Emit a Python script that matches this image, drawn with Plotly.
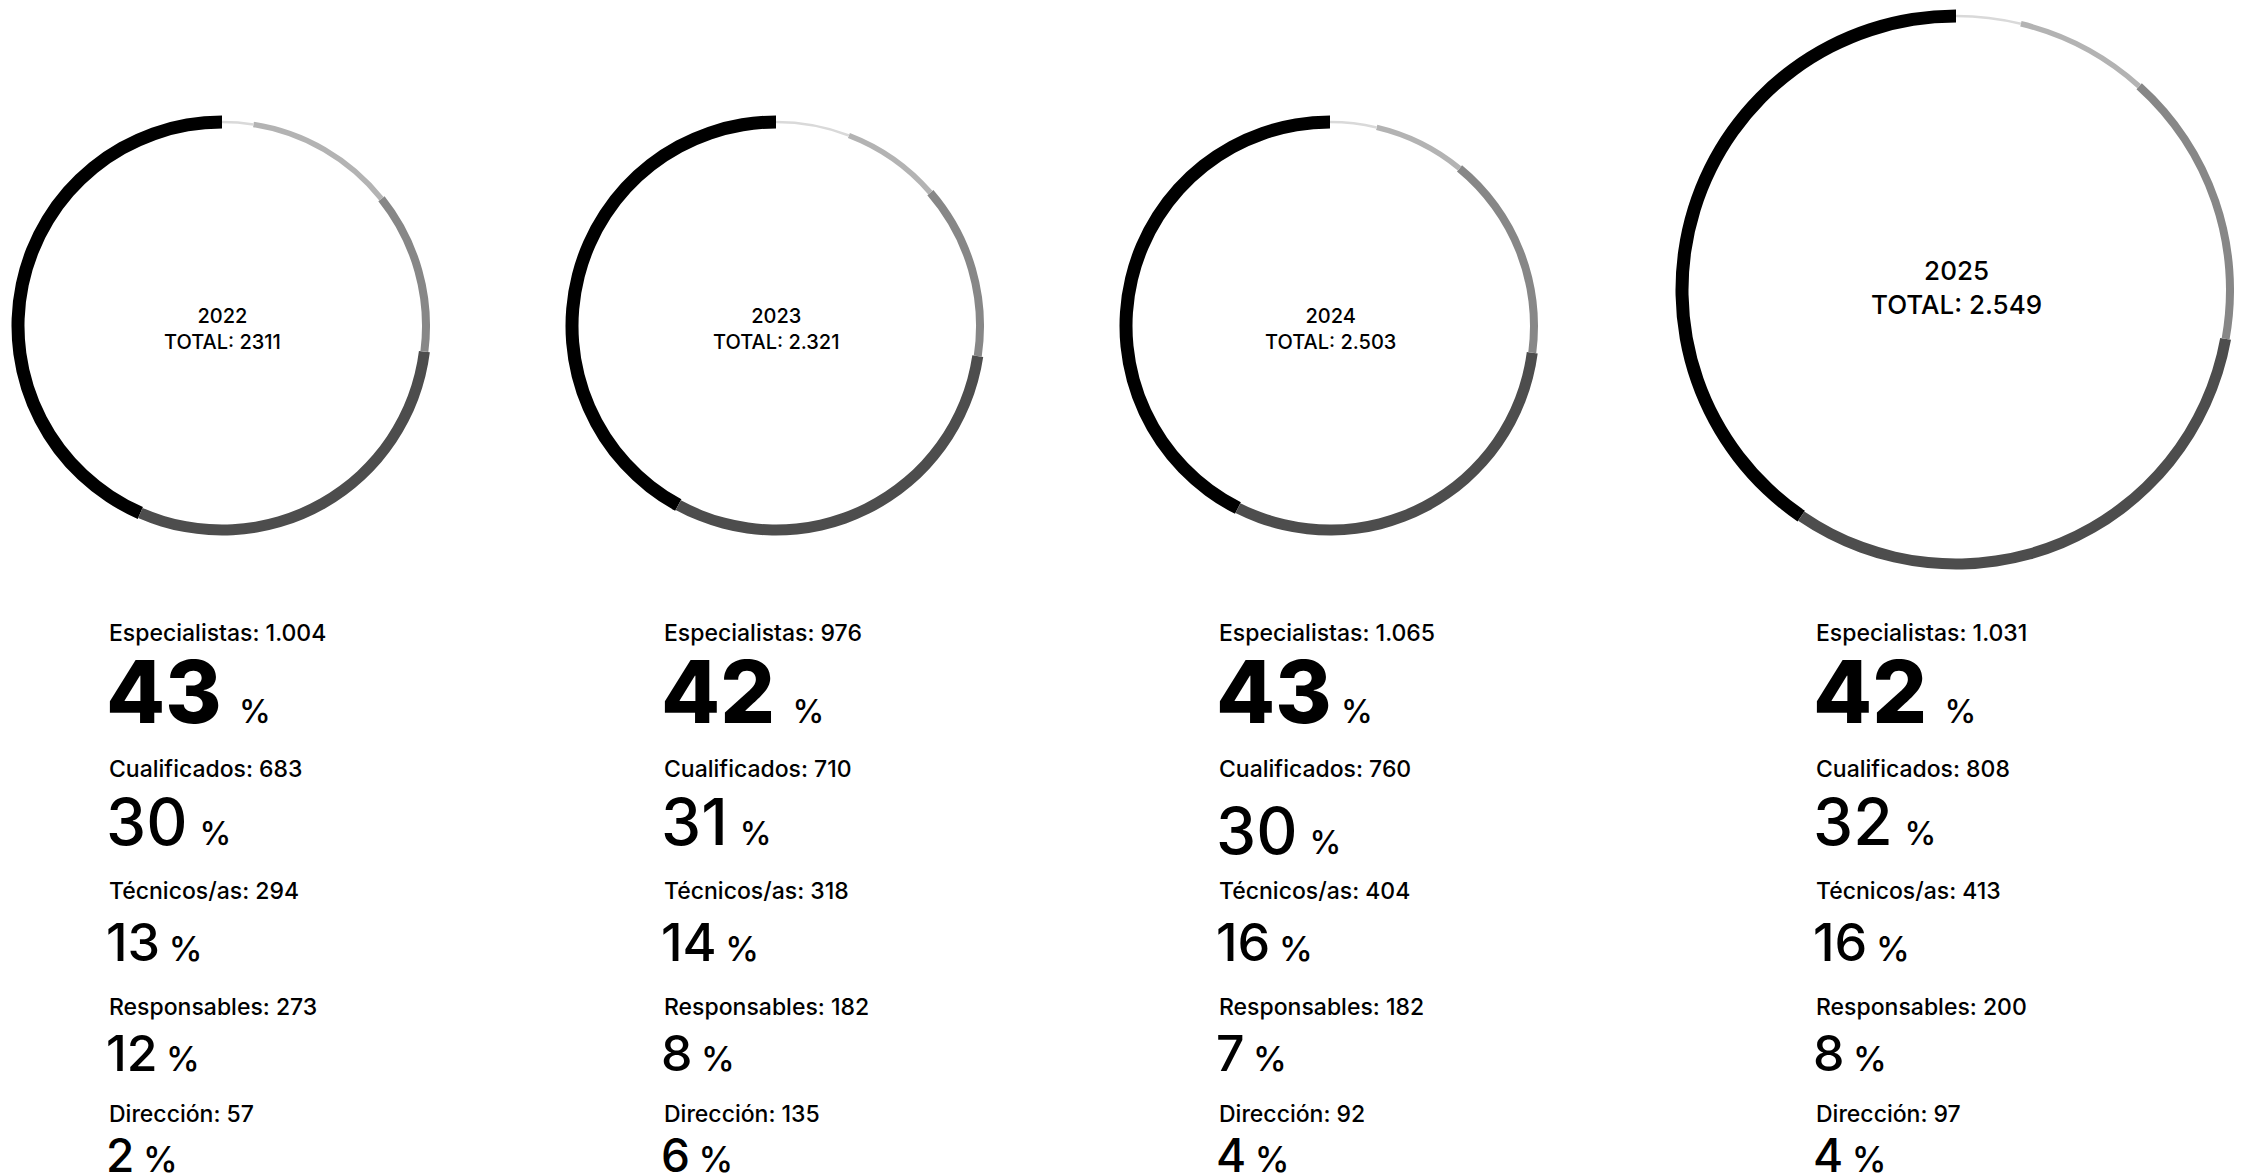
import plotly.graph_objects as go

# ---------------- data ----------------
years = ["2022", "2023", "2024", "2025"]
total_text = ["2311", "2.321", "2.503", "2.549"]
categories = ["Especialistas", "Cualificados", "Técnicos/as", "Responsables", "Dirección"]
especialistas = [1004, 976, 1065, 1031]
cualificados = [683, 710, 760, 808]
tecnicos = [294, 318, 404, 413]
responsables = [273, 182, 182, 200]
direccion = [57, 135, 92, 97]
pct_especialistas = [43, 42, 43, 42]
pct_cualificados = [30, 31, 30, 32]
pct_tecnicos = [13, 14, 16, 16]
pct_responsables = [12, 8, 7, 8]
pct_direccion = [2, 6, 4, 4]

counts = [especialistas, cualificados, tecnicos, responsables, direccion]
pcts = [pct_especialistas, pct_cualificados, pct_tecnicos, pct_responsables, pct_direccion]

# ---------------- style / layout ----------------
PAGE_W, PAGE_H = 2242, 1174
OFF = 8  # default body margin of the html page
W, H = PAGE_W - OFF, PAGE_H - OFF
FONT = "Inter"
colors = ["#000000", "#4d4d4d", "#878787", "#b3b3b3", "#d9d9d9"]
thick = [13, 11, 8, 5.5, 2.5]
rings = [(222, 326, 204), (776, 326, 204), (1330, 326, 204), (1956, 290, 274)]
center_text_dy = [3, 3, 3, -3]
center_font = [20, 20, 20, 26]
col_x = [107, 662, 1217, 1814]
label_y = [633, 769, 891, 1007, 1114]
num_y = [692, 821, 942, 1053, 1155]
num_size = [86, 64, 52, 50, 46]
pct_size = [32, 32, 34, 34, 35]
gap_px = [20, 14, 10, 10, 10]
label_size = 23


def px(x):
    return min(max((x - OFF) / W, 0.0), 1.0)


def py(y):
    return min(max(1 - (y - OFF) / H, 0.0), 1.0)


def fmt(v):
    return f"{v:,}".replace(",", ".")


fig = go.Figure()

# ring order, clockwise from 12 o'clock: Dirección ... Especialistas
order = list(range(len(categories)))[::-1]

for j, yr in enumerate(years):
    cx, cy, R = rings[j]
    for k in range(len(categories)):
        ro = R + thick[k] / 2
        ri = R - thick[k] / 2
        cols = [colors[m] if m == k else "rgba(0,0,0,0)" for m in order]
        fig.add_trace(go.Pie(
            labels=[categories[m] for m in order],
            values=[counts[m][j] for m in order],
            sort=False, direction="clockwise", rotation=0,
            hole=ri / ro,
            marker=dict(colors=cols, line=dict(width=0)),
            textinfo="none", hoverinfo="skip", showlegend=False,
            domain=dict(x=[px(cx - ro), px(cx + ro)],
                        y=[py(cy + ro), py(cy - ro)]),
        ))
    fig.add_annotation(
        x=px(cx), y=py(cy + center_text_dy[j]), xref="paper", yref="paper",
        text=f"{yr}<br>TOTAL: {total_text[j]}", showarrow=False,
        xanchor="center", yanchor="middle", align="center",
        font=dict(family=FONT, size=center_font[j], color="#000", weight=500),
    )

for j in range(len(years)):
    for i, cat in enumerate(categories):
        ly = label_y[i]
        ny = num_y[i]
        gap = gap_px[i]
        if j == 2 and i == 1:
            ny += 9
        if j == 2 and i == 0:
            gap = 11
        fig.add_annotation(
            x=px(col_x[j]), y=py(ly), xref="paper", yref="paper",
            text=f"{cat}: {fmt(counts[i][j])}", showarrow=False,
            xanchor="left", yanchor="middle", align="left",
            font=dict(family=FONT, size=label_size, color="#000", weight=500),
        )
        p = pcts[i][j]
        num = f"<span style='font-weight:800'>{p}</span>" if i == 0 else f"{p}"
        space_size = round(gap / 0.31)
        txt = (f"{num}<span style='font-size:{space_size}px'> </span>"
               f"<span style='font-size:{pct_size[i]}px'>%</span>")
        fig.add_annotation(
            x=px(col_x[j] - 3), y=py(ny), xref="paper", yref="paper",
            text=txt, showarrow=False,
            xanchor="left", yanchor="middle", align="left",
            font=dict(family=FONT, size=num_size[i], color="#000", weight=500),
        )

fig.update_layout(
    width=W, height=H,
    margin=dict(l=0, r=0, t=0, b=0),
    paper_bgcolor="white", plot_bgcolor="white",
    showlegend=False,
)

fig.write_html("out.html")
